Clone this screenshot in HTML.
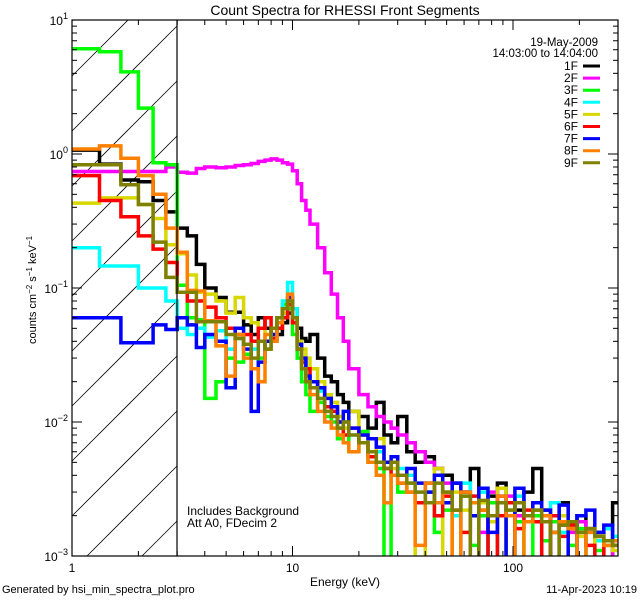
<!DOCTYPE html>
<html><head><meta charset="utf-8"><style>
html,body{margin:0;padding:0;background:#fff;width:640px;height:600px;overflow:hidden}
svg{display:block;font-family:"Liberation Sans",sans-serif}
</style></head><body>
<svg id="chart" width="640" height="600" viewBox="0 0 640 600" xmlns="http://www.w3.org/2000/svg">
<rect width="640" height="600" fill="#fff"/>
<defs><clipPath id="plotclip"><rect x="72" y="20" width="546" height="536"/></clipPath></defs>
<g id="hatch"></g>
<g id="series" clip-path="url(#plotclip)"></g>
<g id="axes"></g>
<text x="345" y="15" font-size="14" text-anchor="middle">Count Spectra for RHESSI Front Segments</text>
<text x="345" y="586" font-size="12" text-anchor="middle">Energy (keV)</text>
<text transform="translate(36,290) rotate(-90)" font-size="11" text-anchor="middle">counts cm<tspan baseline-shift="super" font-size="8">−2</tspan> s<tspan baseline-shift="super" font-size="8">−1</tspan> keV<tspan baseline-shift="super" font-size="8">−1</tspan></text>
<text x="2" y="593" font-size="11">Generated by hsi_min_spectra_plot.pro</text>
<text x="637" y="593" font-size="11" text-anchor="end">11-Apr-2023 10:19</text>
<text x="187" y="515" font-size="12">Includes Background</text>
<text x="187" y="527" font-size="12">Att A0, FDecim 2</text>
<text x="598" y="46" font-size="11.5" text-anchor="end">19-May-2009</text>
<text x="598" y="57" font-size="11.5" text-anchor="end">14:03:00 to 14:04:00</text>
<g id="legend"></g>
</svg>
<script>
const edges=[1,1.333,1.667,2,2.333,2.667,3,3.333,3.667,4,4.5,5,5.5,6,6.5,7,7.5,8,8.5,9,9.5,10,10.5,11,11.5,12,13,14,15,16,17,18,20,22,24,26,28,30,33,36,40,44,48,53,58,64,70,77,85,93,102,112,123,135,148,162,178,195,214,235,258,283,300];
const seriesNames=["1F","2F","3F","4F","5F","6F","7F","8F","9F"];
const s1F=[1.07,0.84,0.64,0.62,0.45,0.37,0.28,0.245,0.15,0.1,0.085,0.066,0.066,0.053,0.045,0.06,0.05,0.04,0.045,0.055,0.065,0.07,0.05,0.042,0.04,0.045,0.03,0.022,0.02,0.016,0.014,0.012,0.011,0.009,0.014,0.008,0.007,0.011,0.006,0.005,0.0055,0.0045,0.004,0.0035,0.003,0.0045,0.0009,0.0028,0.0035,0.0025,0.0022,0.003,0.0045,0.0022,0.0009,0.0025,0.0018,0.002,0.0016,0.0015,0.0009,0.0025];
const s2F=[0.74,0.74,0.74,0.74,0.74,0.8,0.73,0.72,0.78,0.8,0.79,0.8,0.82,0.83,0.85,0.88,0.9,0.92,0.9,0.86,0.84,0.75,0.6,0.45,0.38,0.3,0.2,0.13,0.09,0.06,0.04,0.025,0.016,0.013,0.011,0.01,0.009,0.008,0.007,0.006,0.005,0.0045,0.0035,0.0009,0.003,0.0009,0.0015,0.003,0.0009,0.0028,0.002,0.0018,0.0025,0.0009,0.002,0.0017,0.0015,0.0018,0.0009,0.0014,0.0013,0.0009];
const s3F=[6.1,5.8,4.1,2.2,0.86,0.83,0.105,0.06,0.058,0.015,0.02,0.03,0.028,0.032,0.025,0.03,0.04,0.045,0.06,0.075,0.07,0.045,0.03,0.02,0.016,0.012,0.014,0.011,0.01,0.0075,0.009,0.006,0.0085,0.005,0.0045,0.0009,0.004,0.003,0.0035,0.0025,0.003,0.0015,0.0022,0.0009,0.0028,0.0012,0.002,0.0025,0.0009,0.0022,0.0018,0.0009,0.002,0.0013,0.0018,0.0009,0.0012,0.0016,0.0009,0.0011,0.0012,0.0013];
const s4F=[0.2,0.146,0.146,0.1,0.1,0.08,0.05,0.045,0.05,0.043,0.048,0.035,0.042,0.038,0.035,0.04,0.035,0.045,0.06,0.08,0.11,0.07,0.04,0.03,0.025,0.02,0.017,0.013,0.012,0.009,0.01,0.008,0.007,0.0055,0.006,0.005,0.004,0.0045,0.004,0.003,0.0035,0.0025,0.003,0.002,0.0035,0.0028,0.003,0.0009,0.0025,0.002,0.0028,0.0018,0.0022,0.002,0.0025,0.0015,0.0018,0.0009,0.0015,0.0013,0.0016,0.0014];
const s5F=[0.43,0.47,0.47,0.42,0.33,0.21,0.18,0.125,0.093,0.09,0.08,0.065,0.085,0.06,0.055,0.05,0.035,0.04,0.05,0.065,0.08,0.055,0.04,0.035,0.03,0.025,0.02,0.016,0.014,0.011,0.009,0.012,0.008,0.006,0.0075,0.005,0.0045,0.004,0.0035,0.0009,0.003,0.0045,0.0009,0.003,0.0022,0.002,0.0025,0.0018,0.0032,0.0009,0.0025,0.002,0.0018,0.0022,0.0015,0.002,0.0016,0.0014,0.0009,0.0015,0.0013,0.0011];
const s6F=[0.69,0.45,0.34,0.245,0.195,0.155,0.093,0.08,0.08,0.072,0.06,0.05,0.045,0.045,0.04,0.05,0.06,0.042,0.05,0.06,0.075,0.055,0.035,0.028,0.025,0.02,0.018,0.013,0.012,0.01,0.008,0.009,0.007,0.0055,0.005,0.0045,0.004,0.0035,0.003,0.0025,0.0035,0.002,0.0028,0.0022,0.0015,0.0028,0.0022,0.0009,0.002,0.0025,0.0016,0.0022,0.0018,0.0009,0.002,0.0014,0.0017,0.0015,0.0012,0.0009,0.0013,0.0012];
const s7F=[0.06,0.06,0.039,0.039,0.053,0.049,0.06,0.053,0.036,0.045,0.04,0.018,0.05,0.035,0.012,0.028,0.04,0.045,0.055,0.07,0.085,0.06,0.038,0.03,0.022,0.02,0.018,0.015,0.013,0.01,0.012,0.009,0.008,0.0075,0.0065,0.005,0.0055,0.004,0.0045,0.0035,0.003,0.004,0.0025,0.0035,0.003,0.002,0.0032,0.0015,0.0028,0.0009,0.0032,0.002,0.0025,0.0022,0.0015,0.0024,0.0009,0.002,0.0022,0.0015,0.0017,0.0013];
const s8F=[1.09,1.15,0.93,0.69,0.5,0.28,0.185,0.096,0.095,0.057,0.037,0.022,0.045,0.03,0.025,0.02,0.045,0.04,0.055,0.07,0.09,0.06,0.035,0.025,0.02,0.016,0.012,0.01,0.009,0.008,0.007,0.006,0.007,0.005,0.004,0.0025,0.004,0.0035,0.003,0.0012,0.0035,0.0025,0.003,0.0009,0.003,0.0025,0.0022,0.002,0.0028,0.002,0.0009,0.0018,0.0022,0.002,0.0015,0.0018,0.0016,0.0009,0.0015,0.0014,0.0012,0.0013];
const s9F=[0.83,0.83,0.59,0.42,0.22,0.12,0.093,0.093,0.056,0.056,0.056,0.045,0.042,0.038,0.03,0.04,0.035,0.05,0.06,0.07,0.08,0.06,0.035,0.025,0.02,0.018,0.015,0.012,0.011,0.009,0.01,0.008,0.007,0.006,0.005,0.0045,0.005,0.004,0.0035,0.003,0.0025,0.0035,0.003,0.0022,0.0028,0.0009,0.0026,0.002,0.0025,0.0022,0.0025,0.002,0.0022,0.0018,0.0009,0.0017,0.0018,0.0015,0.0016,0.0014,0.0013,0.0012];
const seriesColors=["#000000","#ff00ff","#00ff00","#00ffff","#d8d800","#ff0000","#0000ff","#ff8000","#808000"];
const xTickLabels=["1","10","100"];
const yTickExps=["1","0","−1","−2","−3"];

const NS="http://www.w3.org/2000/svg";
const X0=72,X1=618,Y0=20,Y1=556,XDEC=220.5,YDEC=134,XH=177;
const xScale=e=>X0+XDEC*Math.log10(e);
const yScale=v=>Y0+YDEC*(1-Math.log10(v));
function mk(tag,attrs,parent){const el=document.createElementNS(NS,tag);for(const k in attrs)el.setAttribute(k,attrs[k]);parent.appendChild(el);return el;}

const hatch=document.getElementById('hatch');
for(let i=-11;i<6;i++){
  const yb=Y1-40+i*55;
  const xs=Math.max(X0,X0+yb-Y1),xe=Math.min(XH,X0+yb-Y0);
  if(xs>=xe)continue;
  const l=mk('line',{x1:xs,y1:yb-(xs-X0),x2:xe,y2:yb-(xe-X0),stroke:'#000','stroke-width':0.8},hatch);
  
  
}

const allSeries=[s1F,s2F,s3F,s4F,s5F,s6F,s7F,s8F,s9F];
const sg=document.getElementById('series');
allSeries.forEach((vals,si)=>{
  const n=Math.min(vals.length,edges.length-1);
  let d='';
  for(let i=0;i<n;i++){
    const v=Math.max(vals[i],0.00092);
    const y=yScale(v).toFixed(1);
    const xa=xScale(edges[i]).toFixed(1),xb=Math.min(X1,xScale(edges[i+1])).toFixed(1);
    d+=(i===0?'M':'L')+xa+','+y+'L'+xb+','+y;
  }
  const p=mk('path',{d:d,fill:'none',stroke:seriesColors[si],'stroke-width':3.5,'stroke-linejoin':'miter'},sg);
  
  
});

const ax=document.getElementById('axes');
const frame=mk('rect',{x:X0,y:Y0,width:X1-X0,height:Y1-Y0,fill:'none',stroke:'#000','stroke-width':1.2},ax);


const vl=mk('line',{x1:XH,y1:Y0,x2:XH,y2:Y1,stroke:'#000','stroke-width':1.2},ax);


for(let dec=0;dec<3;dec++){
  for(let m=1;m<10;m++){
    const e=m*Math.pow(10,dec);
    const x=xScale(e);
    if(x>X1)break;
    const len=m===1?10:5;
    const t1=mk('line',{x1:x,y1:Y1,x2:x,y2:Y1-len,stroke:'#000','stroke-width':1},ax);
    
    
    const t2=mk('line',{x1:x,y1:Y0,x2:x,y2:Y0+len,stroke:'#000','stroke-width':1},ax);
    
    
  }
}
xTickLabels.forEach((lab,i)=>{
  const t=mk('text',{x:xScale(Math.pow(10,i)),y:Y1+16,'font-size':12,'text-anchor':'middle'},ax);
  t.textContent=lab;
  
  
});
for(let dec=-3;dec<1;dec++){
  for(let m=1;m<10;m++){
    const v=m*Math.pow(10,dec);
    const y=yScale(v);
    const len=m===1?10:5;
    const t1=mk('line',{x1:X0,y1:y,x2:X0+len,y2:y,stroke:'#000','stroke-width':1},ax);
    
    
    const t2=mk('line',{x1:X1,y1:y,x2:X1-len,y2:y,stroke:'#000','stroke-width':1},ax);
    
    
  }
}
yTickExps.forEach((ex,i)=>{
  const y=Y0+i*YDEC;
  const t=mk('text',{x:X0-4,y:y+5,'font-size':12,'text-anchor':'end'},ax);
  
  
  const a=document.createElementNS(NS,'tspan');a.textContent='10';t.appendChild(a);
  const b=document.createElementNS(NS,'tspan');b.setAttribute('dy','-6');b.setAttribute('font-size','9');b.textContent=ex;t.appendChild(b);
});

const lg=document.getElementById('legend');
seriesNames.forEach((nm,i)=>{
  const y=66+i*12.1;
  const t=mk('text',{x:578,y:y+4,'font-size':12,'text-anchor':'end'},lg);
  t.textContent=nm;
  
  
  const l=mk('line',{x1:583,y1:y,x2:600,y2:y,stroke:seriesColors[i],'stroke-width':3},lg);
  
  
});
</script>
</body></html>
